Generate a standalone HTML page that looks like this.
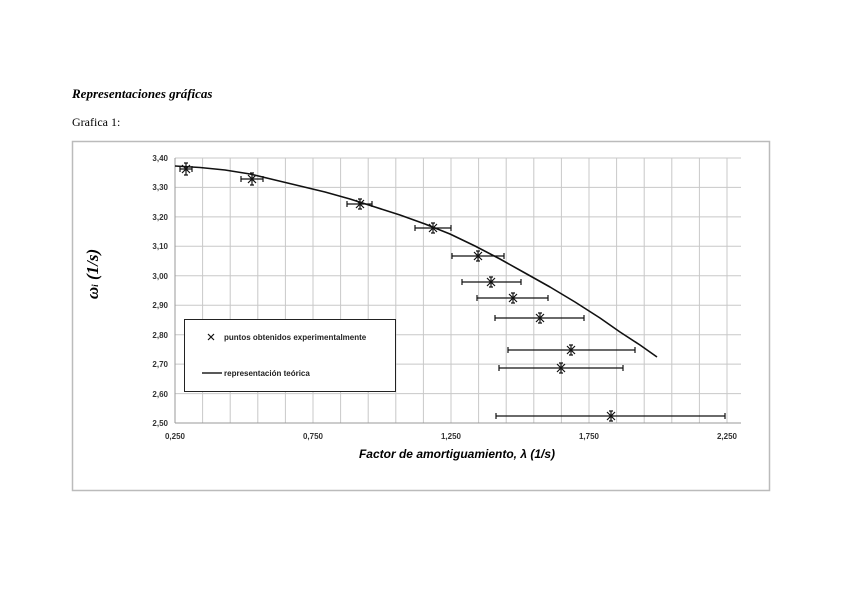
<!DOCTYPE html>
<html><head><meta charset="utf-8"><style>
html,body{margin:0;padding:0;background:#fff;}
body{width:848px;height:599px;position:relative;overflow:hidden;font-family:"Liberation Serif",serif;}
</style></head><body>
<svg width="848" height="599" xmlns="http://www.w3.org/2000/svg" style="position:absolute;left:0;top:0">
<text x="72" y="98" font-family="Liberation Serif" font-style="italic" font-weight="bold" font-size="13">Representaciones gráficas</text>
<text x="72" y="126" font-family="Liberation Serif" font-size="12">Grafica 1:</text>
<rect x="72.5" y="141.5" width="697" height="349" fill="#fff" stroke="#bbb" stroke-width="1.5"/>
<g stroke="#c8c8c8" stroke-width="1">
<line x1="175" y1="158" x2="741" y2="158"/><line x1="175" y1="187.4" x2="741" y2="187.4"/><line x1="175" y1="216.9" x2="741" y2="216.9"/><line x1="175" y1="246.3" x2="741" y2="246.3"/><line x1="175" y1="275.8" x2="741" y2="275.8"/><line x1="175" y1="305.2" x2="741" y2="305.2"/><line x1="175" y1="334.7" x2="741" y2="334.7"/><line x1="175" y1="364.1" x2="741" y2="364.1"/><line x1="175" y1="393.6" x2="741" y2="393.6"/>
<line x1="202.6" y1="158" x2="202.6" y2="423"/><line x1="230.2" y1="158" x2="230.2" y2="423"/><line x1="257.8" y1="158" x2="257.8" y2="423"/><line x1="285.4" y1="158" x2="285.4" y2="423"/><line x1="313" y1="158" x2="313" y2="423"/><line x1="340.6" y1="158" x2="340.6" y2="423"/><line x1="368.2" y1="158" x2="368.2" y2="423"/><line x1="395.8" y1="158" x2="395.8" y2="423"/><line x1="423.4" y1="158" x2="423.4" y2="423"/><line x1="451" y1="158" x2="451" y2="423"/><line x1="478.6" y1="158" x2="478.6" y2="423"/><line x1="506.2" y1="158" x2="506.2" y2="423"/><line x1="533.8" y1="158" x2="533.8" y2="423"/><line x1="561.4" y1="158" x2="561.4" y2="423"/><line x1="589" y1="158" x2="589" y2="423"/><line x1="616.6" y1="158" x2="616.6" y2="423"/><line x1="644.2" y1="158" x2="644.2" y2="423"/><line x1="671.8" y1="158" x2="671.8" y2="423"/><line x1="699.4" y1="158" x2="699.4" y2="423"/><line x1="727" y1="158" x2="727" y2="423"/>
</g>
<line x1="175" y1="158" x2="175" y2="423" stroke="#999"/>
<line x1="175" y1="423" x2="741" y2="423" stroke="#999"/>
<g font-family="Liberation Sans" font-size="8" font-weight="bold" fill="#333" text-anchor="end">
<text x="168" y="161">3,40</text><text x="168" y="190">3,30</text><text x="168" y="220">3,20</text><text x="168" y="249">3,10</text><text x="168" y="279">3,00</text><text x="168" y="308">2,90</text><text x="168" y="338">2,80</text><text x="168" y="367">2,70</text><text x="168" y="397">2,60</text><text x="168" y="426">2,50</text>
</g>
<g font-family="Liberation Sans" font-size="8" font-weight="bold" fill="#333" text-anchor="middle">
<text x="175" y="439">0,250</text><text x="313" y="439">0,750</text><text x="451" y="439">1,250</text><text x="589" y="439">1,750</text><text x="727" y="439">2,250</text>
</g>
<text x="457" y="458" text-anchor="middle" font-family="Liberation Sans" font-style="italic" font-weight="bold" font-size="12">Factor de amortiguamiento, λ (1/s)</text>
<text transform="translate(98,274) rotate(-90)" text-anchor="middle" font-family="Liberation Serif" font-style="italic" font-weight="bold" font-size="17">ω<tspan font-size="9">i</tspan>  (1/s)</text>
<polyline points="175,166 200,167.5 225,170 250,174 275,180 300,186 325,192 350,199 375,207 400,215 425,224 450,234 475,246 500,259 525,273 550,287 575,302 600,318 620,332 640,345 657,357" fill="none" stroke="#111" stroke-width="1.6" stroke-linejoin="round"/>
<g stroke="#111" stroke-width="1.2" fill="none">
<path d="M180,169h12M180,166v6M192,166v6M186,163v12M184,163h4M184,175h4M182,165l8,8M190,165l-8,8"/>
<path d="M241,179h22M241,176v6M263,176v6M252,173v12M250,173h4M250,185h4M248,175l8,8M256,175l-8,8"/>
<path d="M347,204h25M347,201v6M372,201v6M360,199v10M358,199h4M358,209h4M356,200l8,8M364,200l-8,8"/>
<path d="M415,228h36M415,225v6M451,225v6M433,223v10M431,223h4M431,233h4M429,224l8,8M437,224l-8,8"/>
<path d="M452,256h52M452,253v6M504,253v6M478,251v10M476,251h4M476,261h4M474,252l8,8M482,252l-8,8"/>
<path d="M462,282h59M462,279v6M521,279v6M491,277v10M489,277h4M489,287h4M487,278l8,8M495,278l-8,8"/>
<path d="M477,298h71M477,295v6M548,295v6M513,293v10M511,293h4M511,303h4M509,294l8,8M517,294l-8,8"/>
<path d="M495,318h89M495,315v6M584,315v6M540,313v10M538,313h4M538,323h4M536,314l8,8M544,314l-8,8"/>
<path d="M508,350h127M508,347v6M635,347v6M571,345v10M569,345h4M569,355h4M567,346l8,8M575,346l-8,8"/>
<path d="M499,368h124M499,365v6M623,365v6M561,363v10M559,363h4M559,373h4M557,364l8,8M565,364l-8,8"/>
<path d="M496,416h229M496,413v6M725,413v6M611,411v10M609,411h4M609,421h4M607,412l8,8M615,412l-8,8"/>
</g>
<rect x="184.5" y="319.5" width="211" height="72" fill="#fff" stroke="#222" stroke-width="1"/>
<path d="M208,334l6,6M214,334l-6,6" stroke="#111" stroke-width="1.2"/>
<text x="224" y="340" font-family="Liberation Sans" font-size="8" font-weight="bold" fill="#222">puntos obtenidos experimentalmente</text>
<line x1="202" y1="373" x2="222" y2="373" stroke="#222" stroke-width="1.6"/>
<text x="224" y="376" font-family="Liberation Sans" font-size="8" font-weight="bold" fill="#222">representación teórica</text>
</svg>
</body></html>
